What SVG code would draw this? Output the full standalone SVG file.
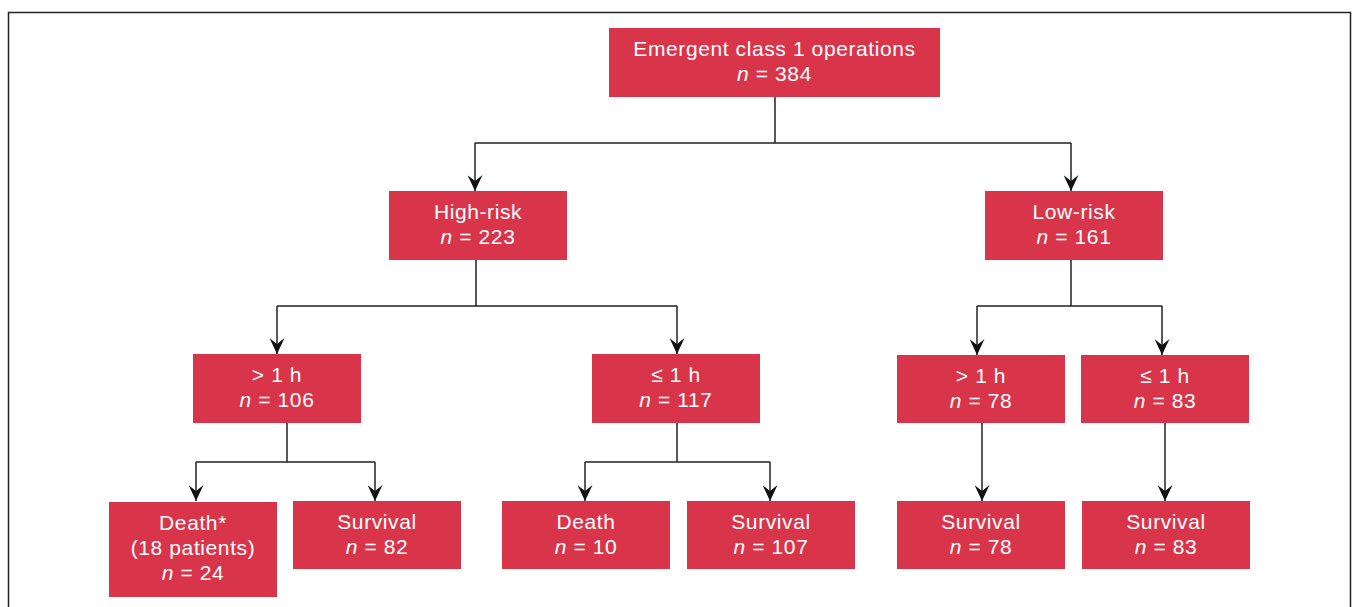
<svg xmlns="http://www.w3.org/2000/svg" width="1355" height="607" viewBox="0 0 1355 607">
<style>
.box{fill:#d9354a}
.t{fill:#fff;font-family:"Liberation Sans",Arial,sans-serif;font-size:21px;letter-spacing:0.6px;text-anchor:middle}
.i{font-style:italic}
.c{fill:none;stroke:#222;stroke-width:1.5}
.a{fill:none;stroke:#222;stroke-width:1.5;marker-end:url(#ah)}
</style>
<defs>
<marker id="ah" viewBox="0 0 16 15" refX="16" refY="7.5" markerWidth="16" markerHeight="15" markerUnits="userSpaceOnUse" orient="auto">
<path d="M0,0 L16,7.5 L0,15 L6,7.5 Z" fill="#111"/>
</marker>
</defs>
<rect width="1355" height="607" fill="#fff"/>
<path d="M8.5,607 V12.5 H1350.5 V607" fill="none" stroke="#222" stroke-width="1.5"/>
<g id="connectors">
<path class="c" d="M775,97 V143 M475,143 H1071"/>
<path class="a" d="M475,143 V191"/>
<path class="a" d="M1071,143 V191"/>
<path class="c" d="M476,260 V306 M277,306 H677"/>
<path class="a" d="M277,306 V354"/>
<path class="a" d="M677,306 V354"/>
<path class="c" d="M1071,260 V306 M977,306 H1162"/>
<path class="a" d="M977,306 V355"/>
<path class="a" d="M1162,306 V355"/>
<path class="c" d="M287,423 V462 M196,462 H375"/>
<path class="a" d="M196,462 V501"/>
<path class="a" d="M375,462 V501"/>
<path class="c" d="M677,423 V462 M585,462 H770"/>
<path class="a" d="M585,462 V501"/>
<path class="a" d="M770,462 V501"/>
<path class="a" d="M982,423 V501"/>
<path class="a" d="M1165,423 V501"/>
</g>
<g id="n-root"><rect class="box" x="609" y="28" width="331" height="69"/><text class="t" x="774.5" y="56">Emergent class 1 operations</text><text class="t" x="774.5" y="81"><tspan class="i">n</tspan> = 384</text></g>
<g id="n-high"><rect class="box" x="389" y="191" width="178" height="69"/><text class="t" x="478" y="219">High-risk</text><text class="t" x="478" y="244"><tspan class="i">n</tspan> = 223</text></g>
<g id="n-low"><rect class="box" x="985" y="191" width="178" height="69"/><text class="t" x="1074" y="219">Low-risk</text><text class="t" x="1074" y="244"><tspan class="i">n</tspan> = 161</text></g>
<g id="n-hr-gt"><rect class="box" x="193" y="354" width="168" height="69"/><text class="t" x="277" y="382">&gt; 1 h</text><text class="t" x="277" y="407"><tspan class="i">n</tspan> = 106</text></g>
<g id="n-hr-le"><rect class="box" x="592" y="354" width="168" height="69"/><text class="t" x="676" y="382">≤ 1 h</text><text class="t" x="676" y="407"><tspan class="i">n</tspan> = 117</text></g>
<g id="n-lr-gt"><rect class="box" x="897" y="355" width="168" height="68"/><text class="t" x="981" y="383">&gt; 1 h</text><text class="t" x="981" y="408"><tspan class="i">n</tspan> = 78</text></g>
<g id="n-lr-le"><rect class="box" x="1081" y="355" width="168" height="68"/><text class="t" x="1165" y="383">≤ 1 h</text><text class="t" x="1165" y="408"><tspan class="i">n</tspan> = 83</text></g>
<g id="n-death1"><rect class="box" x="109" y="502" width="168" height="95"/><text class="t" x="193" y="530">Death*</text><text class="t" x="193" y="555">(18 patients)</text><text class="t" x="193" y="580"><tspan class="i">n</tspan> = 24</text></g>
<g id="n-surv1"><rect class="box" x="293" y="501" width="168" height="68"/><text class="t" x="377" y="529">Survival</text><text class="t" x="377" y="554"><tspan class="i">n</tspan> = 82</text></g>
<g id="n-death2"><rect class="box" x="502" y="501" width="168" height="68"/><text class="t" x="586" y="529">Death</text><text class="t" x="586" y="554"><tspan class="i">n</tspan> = 10</text></g>
<g id="n-surv2"><rect class="box" x="687" y="501" width="168" height="68"/><text class="t" x="771" y="529">Survival</text><text class="t" x="771" y="554"><tspan class="i">n</tspan> = 107</text></g>
<g id="n-surv3"><rect class="box" x="897" y="501" width="168" height="68"/><text class="t" x="981" y="529">Survival</text><text class="t" x="981" y="554"><tspan class="i">n</tspan> = 78</text></g>
<g id="n-surv4"><rect class="box" x="1082" y="501" width="168" height="68"/><text class="t" x="1166" y="529">Survival</text><text class="t" x="1166" y="554"><tspan class="i">n</tspan> = 83</text></g>
</svg>
